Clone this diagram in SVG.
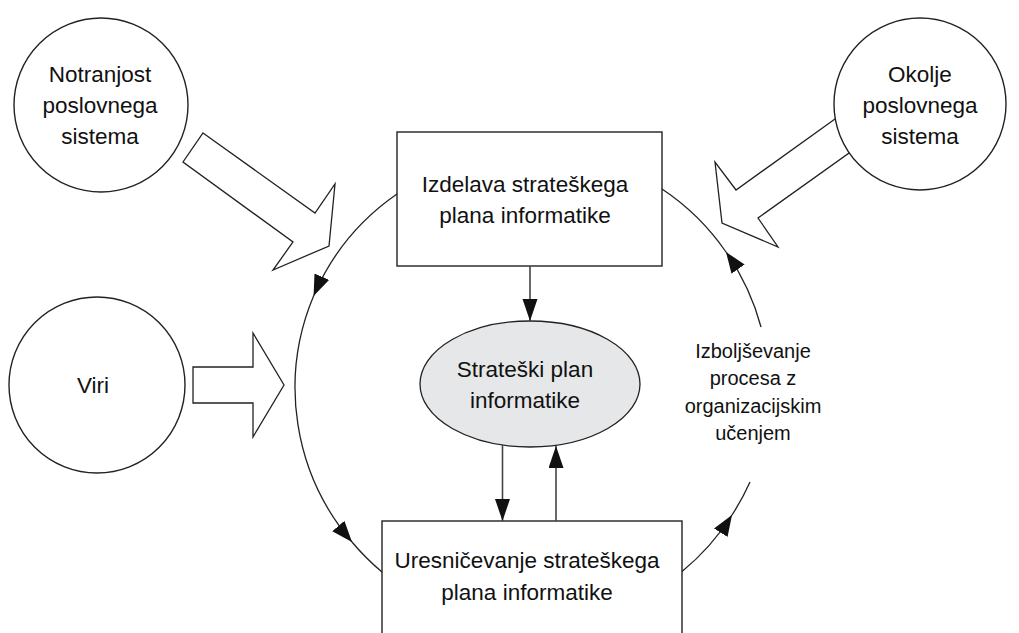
<svg xmlns="http://www.w3.org/2000/svg" width="1019" height="633" viewBox="0 0 1019 633">
<style>
.shape{fill:#fff;stroke:#222;stroke-width:1.4}
.blk{fill:#fff;stroke:#222;stroke-width:1.3;stroke-linejoin:miter}
.t{font-family:"Liberation Sans",Arial,sans-serif;font-size:22.5px;fill:#111;text-anchor:middle}
.ts{font-family:"Liberation Sans",Arial,sans-serif;font-size:20px;fill:#111;text-anchor:middle}
.arc{fill:none;stroke:#222;stroke-width:1.3}
.ln{fill:none;stroke:#444;stroke-width:1.6}
</style>
<defs>
<marker id="ah" markerUnits="userSpaceOnUse" markerWidth="24" markerHeight="18" refX="21" refY="8" orient="auto">
<path d="M0,0 L21,8 L0,16 z" fill="#111"/>
</marker>
<marker id="av" markerUnits="userSpaceOnUse" markerWidth="24" markerHeight="16" refX="22" refY="7.5" orient="auto">
<path d="M0,0 L22,7.5 L0,15 z" fill="#111"/>
</marker>
</defs>

<g id="arrow-notranjost">
<polygon class="blk" points="203,133 315,213 335,184 329,246 273,270 293,242 183,162"/>
</g>
<g id="arrow-okolje">
<polygon class="blk" points="835,119 736,190 715,162 722,223 778,247 758,218 856,148"/>
</g>
<g id="arrow-viri">
<polygon class="blk" points="193,367 253,367 253,333 284,385 253,437 253,403 193,403"/>
</g>

<g id="notranjost">
<circle class="shape" cx="101" cy="105" r="87"/>
<text class="t" x="100" y="82">Notranjost</text>
<text class="t" x="100" y="113">poslovnega</text>
<text class="t" x="100" y="144">sistema</text>
</g>

<g id="okolje">
<circle class="shape" cx="920" cy="104" r="86"/>
<text class="t" x="920" y="82">Okolje</text>
<text class="t" x="920" y="113">poslovnega</text>
<text class="t" x="920" y="144">sistema</text>
</g>

<g id="viri">
<circle class="shape" cx="97" cy="385" r="88"/>
<text class="t" x="93" y="393">Viri</text>
</g>

<g id="izdelava">
<rect class="shape" x="397" y="132" width="265" height="134"/>
<text class="t" x="525" y="192">Izdelava strateškega</text>
<text class="t" x="525" y="223">plana informatike</text>
</g>

<g id="strateski-plan">
<ellipse cx="530" cy="384" rx="110" ry="63" fill="#e6e7e8" stroke="#222" stroke-width="1.3"/>
<text class="t" x="525" y="377">Strateški plan</text>
<text class="t" x="525" y="408">informatike</text>
</g>

<g id="uresnicevanje">
<rect class="shape" x="382" y="521" width="300" height="130"/>
<text class="t" x="527" y="568">Uresničevanje strateškega</text>
<text class="t" x="527" y="600">plana informatike</text>
</g>

<g id="label-izboljsevanje">
<text class="ts" x="753" y="358">Izboljševanje</text>
<text class="ts" x="753" y="385">procesa z</text>
<text class="ts" x="753" y="413">organizacijskim</text>
<text class="ts" x="753" y="440">učenjem</text>
</g>

<g id="connectors">
<path class="arc" d="M397,194 A237,237 0 0 0 313.6,296" marker-end="url(#ah)"/>
<path class="arc" d="M313.6,296 A237,237 0 0 0 352,542" marker-end="url(#ah)"/>
<path class="arc" d="M352,542 A237,237 0 0 0 382,572"/>
<path class="arc" d="M682,571.5 A237,237 0 0 0 732,515" marker-end="url(#ah)"/>
<path class="arc" d="M732,515 A237,237 0 0 0 750,482"/>
<path class="arc" d="M761,327 A237,237 0 0 0 726,252" marker-end="url(#ah)"/>
<path class="arc" d="M726,252 A237,237 0 0 0 662,189"/>
<line class="ln" x1="530" y1="266" x2="530" y2="321" marker-end="url(#av)"/>
<line class="ln" x1="502.5" y1="445" x2="502.5" y2="521" marker-end="url(#av)"/>
<line class="ln" x1="556" y1="521" x2="556" y2="446" marker-end="url(#av)"/>
</g>
</svg>
